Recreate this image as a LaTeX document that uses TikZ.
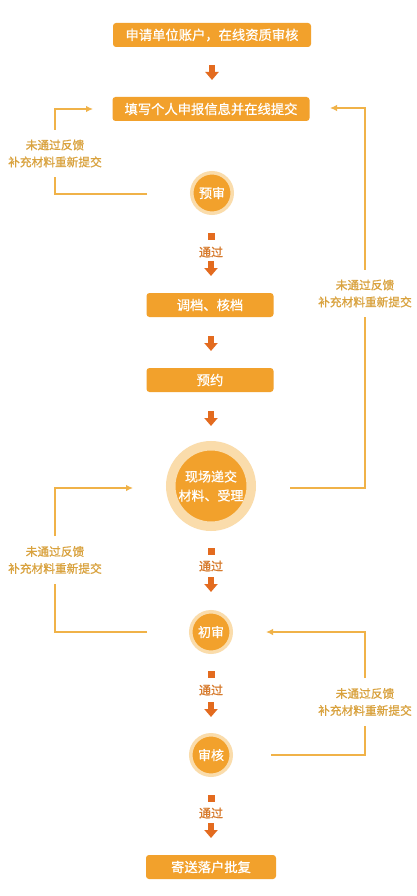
\documentclass[tikz,border=0pt]{standalone}
\usepackage{fontspec}
\setmainfont[FakeBold=0.9]{Noto Sans CJK SC}
\usetikzlibrary{arrows.meta}
\definecolor{boxor}{HTML}{F2A12C}
\definecolor{arrowor}{HTML}{E36B1F}
\definecolor{ringor}{HTML}{FADCAB}
\definecolor{lineor}{HTML}{F0B248}
\definecolor{labelor}{HTML}{D9A23E}
\definecolor{passor}{HTML}{D77A2C}
\begin{document}
\begin{tikzpicture}[x=1pt,y=-1pt,
  stepbox/.style={rectangle, rounded corners=3pt, fill=boxor, text=white,
    minimum height=24pt, inner sep=0pt, font=\fontsize{13.3}{13}\selectfont},
  roundstep/.style={circle, fill=boxor, draw=ringor, line width=3.5pt,
    minimum size=40.5pt, inner sep=0pt, text=white, font=\fontsize{13}{13}\selectfont},
  blockarr/.style={draw=arrowor, line width=6pt,
    -{Triangle[length=8pt,width=13pt]}},
  passsq/.style={rectangle, fill=arrowor, minimum size=7pt, inner sep=0pt},
  passtxt/.style={text=passor, inner sep=0pt, font=\fontsize{12}{12}\selectfont},
  loopline/.style={draw=lineor, line width=1.5pt},
  looparr/.style={loopline, -{Latex[length=7pt,width=6.5pt]}},
  looplabel/.style={align=center, text=labelor, inner xsep=0pt, inner ysep=10pt,
    outer sep=0pt, font=\fontsize{11.7}{17}\selectfont}
]
\useasboundingbox[fill=white] (0,0) rectangle (417,896);

% main steps
\node[stepbox, minimum width=198pt] (b1) at (212,35) {申请单位账户，在线资质审核};
\node[stepbox, minimum width=197pt] (b2) at (211,109) {填写个人申报信息并在线提交};
\node[roundstep] (c1) at (212,193) {预审};
\node[stepbox, minimum width=127pt] (b3) at (210,305) {调档、核档};
\node[stepbox, minimum width=127pt] (b4) at (210,380) {预约};
\node[roundstep, minimum size=80.5pt, line width=9.5pt, align=center,
      font=\fontsize{13}{19}\selectfont] (c2) at (211,486) {现场递交\\材料、受理};
\node[roundstep] (c3) at (211,632) {初审};
\node[roundstep] (c4) at (211,755) {审核};
\node[stepbox, minimum width=130pt] (b5) at (211,867) {寄送落户批复};

% block arrows
\coordinate (a1s) at (212,65);  \coordinate (a1e) at (212,80);
\coordinate (a2s) at (211,261); \coordinate (a2e) at (211,276);
\coordinate (a3s) at (211,336); \coordinate (a3e) at (211,351);
\coordinate (a4s) at (211,411); \coordinate (a4e) at (211,426);
\coordinate (a5s) at (211,577); \coordinate (a5e) at (211,592);
\coordinate (a6s) at (211,702); \coordinate (a6e) at (211,717);
\coordinate (a7s) at (211,823); \coordinate (a7e) at (211,838);
\foreach \i in {1,...,7} { \draw[blockarr] (a\i s) -- (a\i e); }

% pass markers
\node[passsq] (s1) at (211,236) {};
\node[passtxt] (t1) at (211,252) {通过};
\node[passsq] (s2) at (211,551) {};
\node[passtxt] (t2) at (211,566) {通过};
\node[passsq] (s3) at (211,674) {};
\node[passtxt] (t3) at (211,690) {通过};
\node[passsq] (s4) at (211,798) {};
\node[passtxt] (t4) at (211,813) {通过};

% feedback loop: 预审 -> 填写
\node[looplabel] (l1) at (55,153.5) {未通过反馈\\补充材料重新提交};
\coordinate (l1s) at (147,194);
\coordinate (l1e) at (93,109);
\draw[loopline] (l1s) -| (l1.south);
\draw[looparr] (l1.north) |- (l1e);

% feedback loop: 现场递交 -> 填写
\node[looplabel] (r1) at (365,293.5) {未通过反馈\\补充材料重新提交};
\coordinate (r1s) at (290,488);
\coordinate (r1e) at (330,108);
\draw[loopline] (r1s) -| (r1.south);
\draw[looparr] (r1.north) |- (r1e);

% feedback loop: 初审 -> 现场递交
\node[looplabel] (l2) at (55,560) {未通过反馈\\补充材料重新提交};
\coordinate (l2s) at (147,632);
\coordinate (l2e) at (133,488);
\draw[loopline] (l2s) -| (l2.south);
\draw[looparr] (l2.north) |- (l2e);

% feedback loop: 审核 -> 初审
\node[looplabel] (r2) at (365,702) {未通过反馈\\补充材料重新提交};
\coordinate (r2s) at (271,755);
\coordinate (r2e) at (266,632);
\draw[loopline] (r2s) -| (r2.south);
\draw[looparr] (r2.north) |- (r2e);
\end{tikzpicture}
\end{document}
